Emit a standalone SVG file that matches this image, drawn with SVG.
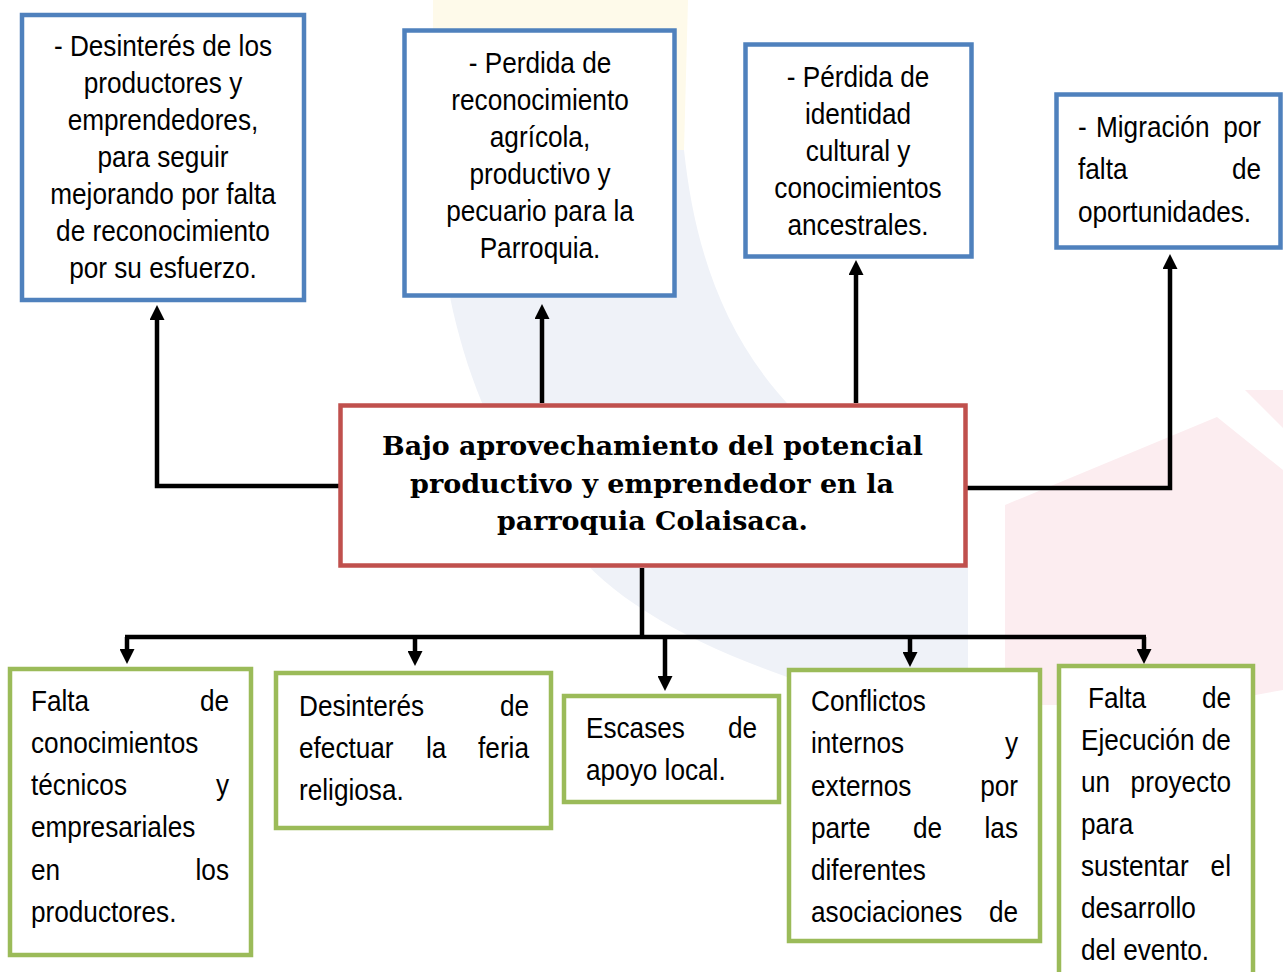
<svg xmlns="http://www.w3.org/2000/svg" width="1283" height="972" viewBox="0 0 1283 972">
<style>
.bx{fill:#fff;stroke-width:4.5}
.blue{stroke:#4f81bd}
.green{stroke:#9bbb59}
.red{stroke:#c0504d}
.t{font-family:"Liberation Sans",Arial,sans-serif;font-size:29px;fill:#000}
.c{text-anchor:middle}
.e{text-anchor:end}
.h{font-family:"DejaVu Serif",Georgia,serif;font-weight:bold;font-size:26px;fill:#000;text-anchor:middle}
.cn{fill:none;stroke:#000;stroke-width:4.5}
</style>
<defs>
<marker id="ah" markerUnits="userSpaceOnUse" markerWidth="15" markerHeight="15" viewBox="0 0 15 15" refX="1" refY="7.5" orient="auto">
<path d="M0,0 L15,7.5 L0,15 z" fill="#000"/>
</marker>
</defs>
<rect width="1283" height="972" fill="#fff"/>
<g id="watermark">
<path d="M433,0 H688 L684,150 H433 Z" fill="#fefaea"/>
<path d="M433,150 H684 C700,300 760,440 968,520 V700 H860 C720,660 620,610 570,545 C480,440 440,320 433,150 Z" fill="#eff2f8"/>
<path d="M1005,505 L1217,417 L1283,470 V690 L1200,705 H1005 Z" fill="#fcedf0"/>
<path d="M1245,390 H1283 V428 Z" fill="#fcedf0"/>
</g>
<g id="connectors">
<path class="cn" d="M340,486 H157 V319" marker-end="url(#ah)"/>
<path class="cn" d="M542,403 V318" marker-end="url(#ah)"/>
<path class="cn" d="M856,403 V274" marker-end="url(#ah)"/>
<path class="cn" d="M966,488 H1170 V268" marker-end="url(#ah)"/>
<path class="cn" d="M642,568 V637"/>
<path class="cn" d="M125,637 H1146"/>
<path class="cn" d="M127,637 V650" marker-end="url(#ah)"/>
<path class="cn" d="M415,637 V652" marker-end="url(#ah)"/>
<path class="cn" d="M665,637 V677" marker-end="url(#ah)"/>
<path class="cn" d="M910,637 V653" marker-end="url(#ah)"/>
<path class="cn" d="M1144,637 V650" marker-end="url(#ah)"/>
</g>
<g id="efecto1">
<rect class="bx blue" x="22" y="15" width="282" height="285"/>
<text class="t c" transform="translate(163,56) scale(0.903,1)">- Desinterés de los</text>
<text class="t c" transform="translate(163,93) scale(0.903,1)">productores y</text>
<text class="t c" transform="translate(163,130) scale(0.903,1)">emprendedores,</text>
<text class="t c" transform="translate(163,167) scale(0.903,1)">para seguir</text>
<text class="t c" transform="translate(163,204) scale(0.903,1)">mejorando por falta</text>
<text class="t c" transform="translate(163,241) scale(0.903,1)">de reconocimiento</text>
<text class="t c" transform="translate(163,278) scale(0.903,1)">por su esfuerzo.</text>
</g>
<g id="efecto2">
<rect class="bx blue" x="404.5" y="30.5" width="270" height="265"/>
<text class="t c" transform="translate(540,73) scale(0.903,1)">- Perdida de</text>
<text class="t c" transform="translate(540,110) scale(0.903,1)">reconocimiento</text>
<text class="t c" transform="translate(540,147) scale(0.903,1)">agrícola,</text>
<text class="t c" transform="translate(540,184) scale(0.903,1)">productivo y</text>
<text class="t c" transform="translate(540,221) scale(0.903,1)">pecuario para la</text>
<text class="t c" transform="translate(540,258) scale(0.903,1)">Parroquia.</text>
</g>
<g id="efecto3">
<rect class="bx blue" x="745.5" y="44.5" width="226" height="212"/>
<text class="t c" transform="translate(858,87) scale(0.903,1)">- Pérdida de</text>
<text class="t c" transform="translate(858,124) scale(0.903,1)">identidad</text>
<text class="t c" transform="translate(858,161) scale(0.903,1)">cultural y</text>
<text class="t c" transform="translate(858,198) scale(0.903,1)">conocimientos</text>
<text class="t c" transform="translate(858,235) scale(0.903,1)">ancestrales.</text>
</g>
<g id="efecto4">
<rect class="bx blue" x="1056.5" y="94.5" width="224" height="153"/>
<text class="t" transform="translate(1078,137) scale(0.903,1)">-</text>
<text class="t" transform="translate(1096,137) scale(0.903,1)">Migración</text>
<text class="t e" transform="translate(1261,137) scale(0.903,1)">por</text>
<text class="t" transform="translate(1078,179) scale(0.903,1)">falta</text>
<text class="t e" transform="translate(1261,179) scale(0.903,1)">de</text>
<text class="t" transform="translate(1078,222) scale(0.903,1)">oportunidades.</text>
</g>
<g id="problema">
<rect class="bx red" x="340.5" y="405.5" width="625" height="160"/>
<text class="h" x="652.5" y="455" textLength="541" lengthAdjust="spacingAndGlyphs">Bajo aprovechamiento del potencial</text>
<text class="h" x="652" y="492.5" textLength="484" lengthAdjust="spacingAndGlyphs">productivo y emprendedor en la</text>
<text class="h" x="652.5" y="530" textLength="311" lengthAdjust="spacingAndGlyphs">parroquia Colaisaca.</text>
</g>
<g id="causa1">
<rect class="bx green" x="10" y="669" width="241" height="286"/>
<text class="t" transform="translate(31,711) scale(0.903,1)">Falta</text>
<text class="t e" transform="translate(229,711) scale(0.903,1)">de</text>
<text class="t" transform="translate(31,753) scale(0.903,1)">conocimientos</text>
<text class="t" transform="translate(31,795) scale(0.903,1)">técnicos</text>
<text class="t e" transform="translate(229,795) scale(0.903,1)">y</text>
<text class="t" transform="translate(31,837) scale(0.903,1)">empresariales</text>
<text class="t" transform="translate(31,880) scale(0.903,1)">en</text>
<text class="t e" transform="translate(229,880) scale(0.903,1)">los</text>
<text class="t" transform="translate(31,922) scale(0.903,1)">productores.</text>
</g>
<g id="causa2">
<rect class="bx green" x="276" y="673" width="275" height="155"/>
<text class="t" transform="translate(299,716) scale(0.903,1)">Desinterés</text>
<text class="t e" transform="translate(529,716) scale(0.903,1)">de</text>
<text class="t" transform="translate(299,758) scale(0.903,1)">efectuar</text>
<text class="t" transform="translate(426,758) scale(0.903,1)">la</text>
<text class="t e" transform="translate(529,758) scale(0.903,1)">feria</text>
<text class="t" transform="translate(299,800) scale(0.903,1)">religiosa.</text>
</g>
<g id="causa3">
<rect class="bx green" x="564" y="696" width="215" height="106"/>
<text class="t" transform="translate(586,738) scale(0.903,1)">Escases</text>
<text class="t e" transform="translate(757,738) scale(0.903,1)">de</text>
<text class="t" transform="translate(586,780) scale(0.903,1)">apoyo local.</text>
</g>
<g id="causa4">
<rect class="bx green" x="789" y="670" width="251" height="271"/>
<text class="t" transform="translate(811,711) scale(0.903,1)">Conflictos</text>
<text class="t" transform="translate(811,753) scale(0.903,1)">internos</text>
<text class="t e" transform="translate(1018,753) scale(0.903,1)">y</text>
<text class="t" transform="translate(811,796) scale(0.903,1)">externos</text>
<text class="t e" transform="translate(1018,796) scale(0.903,1)">por</text>
<text class="t" transform="translate(811,838) scale(0.903,1)">parte</text>
<text class="t" transform="translate(913,838) scale(0.903,1)">de</text>
<text class="t e" transform="translate(1018,838) scale(0.903,1)">las</text>
<text class="t" transform="translate(811,880) scale(0.903,1)">diferentes</text>
<text class="t" transform="translate(811,922) scale(0.903,1)">asociaciones</text>
<text class="t e" transform="translate(1018,922) scale(0.903,1)">de</text>
</g>
<g id="causa5">
<rect class="bx green" x="1059" y="666" width="194" height="320"/>
<text class="t" transform="translate(1088,708) scale(0.903,1)">Falta</text>
<text class="t e" transform="translate(1231,708) scale(0.903,1)">de</text>
<text class="t" transform="translate(1081,750) scale(0.903,1)">Ejecución de</text>
<text class="t" transform="translate(1081,792) scale(0.903,1)">un</text>
<text class="t e" transform="translate(1231,792) scale(0.903,1)">proyecto</text>
<text class="t" transform="translate(1081,834) scale(0.903,1)">para</text>
<text class="t" transform="translate(1081,876) scale(0.903,1)">sustentar</text>
<text class="t e" transform="translate(1231,876) scale(0.903,1)">el</text>
<text class="t" transform="translate(1081,918) scale(0.903,1)">desarrollo</text>
<text class="t" transform="translate(1081,960) scale(0.903,1)">del evento.</text>
</g>
</svg>
